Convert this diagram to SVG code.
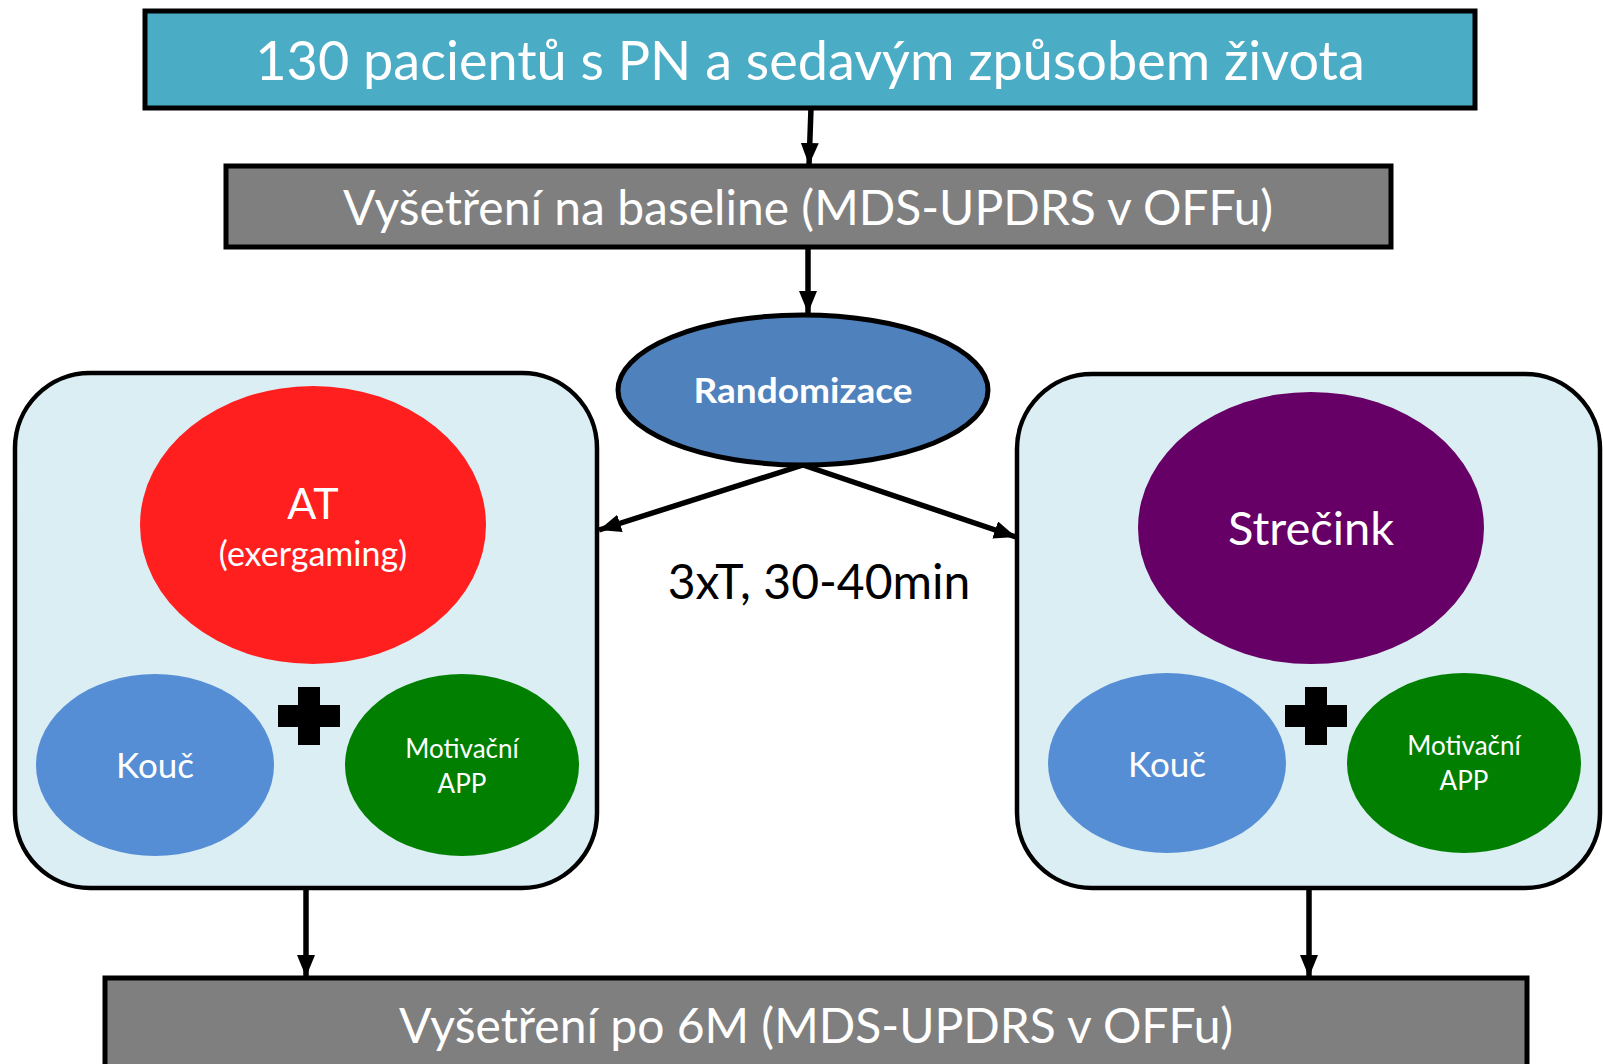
<svg xmlns="http://www.w3.org/2000/svg" width="1603" height="1064" viewBox="0 0 1603 1064">
<defs>
<marker id="ah" viewBox="0 0 22 18" refX="22" refY="9" markerWidth="22" markerHeight="18" markerUnits="userSpaceOnUse" orient="auto">
<path d="M0,0 L22,9 L0,18 Z" fill="#000"/>
</marker>
</defs>
<style>
text{font-family:Lato,"Open Sans","Liberation Sans",sans-serif;fill:#fff;text-anchor:middle}
.box{stroke:#000;stroke-width:5}
.cont{fill:#DBEEF3;stroke:#000;stroke-width:4.5}
.conn{stroke:#000;stroke-width:5.5;fill:none;marker-end:url(#ah)}
.plus{fill:#000}
</style>
<rect width="1603" height="1064" fill="#fff"/>
<g id="connectors">
<line class="conn" x1="811" y1="108" x2="809" y2="165"/>
<line class="conn" x1="808" y1="247" x2="808" y2="313"/>
<line class="conn" x1="803" y1="465" x2="599" y2="530"/>
<line class="conn" x1="803" y1="465" x2="1016" y2="537"/>
<line class="conn" x1="306" y1="888" x2="306" y2="977"/>
<line class="conn" x1="1309" y1="888" x2="1309" y2="977"/>
</g>
<g id="n-patients">
<rect class="box" x="145" y="11" width="1330" height="97" fill="#4BACC6"/>
<text x="810" y="80" font-size="54">130 pacientů s PN a sedavým způsobem života</text>
</g>
<g id="n-baseline">
<rect class="box" x="226" y="166" width="1165" height="81" fill="#7F7F7F"/>
<text x="808" y="225" font-size="48">Vyšetření na baseline (MDS-UPDRS v OFFu)</text>
</g>
<g id="n-random">
<ellipse cx="803" cy="390" rx="185" ry="75" fill="#4F81BD" stroke="#000" stroke-width="5"/>
<text x="803" y="403" font-size="34" font-weight="bold" textLength="219" lengthAdjust="spacingAndGlyphs">Randomizace</text>
</g>
<g id="n-label">
<text x="819" y="599" font-size="48" style="fill:#000">3xT, 30-40min</text>
</g>
<g id="n-left">
<rect class="cont" x="15" y="373" width="582" height="515" rx="75" ry="75"/>
<ellipse cx="313" cy="525" rx="173" ry="139" fill="#FF1F1F"/>
<text x="313" y="519" font-size="43">AT</text>
<text x="313" y="566" font-size="34">(exergaming)</text>
<ellipse cx="155" cy="765" rx="119" ry="91" fill="#558ED5"/>
<text x="155" y="778" font-size="35">Kouč</text>
<path class="plus" d="M298,687 h22 v18 h20 v22 h-20 v18 h-22 v-18 h-20 v-22 h20 z"/>
<ellipse cx="462" cy="765" rx="117" ry="91" fill="#007F00"/>
<text x="462" y="758" font-size="26">Motivační</text>
<text x="462" y="793" font-size="26">APP</text>
</g>
<g id="n-right">
<rect class="cont" x="1017" y="374" width="583" height="514" rx="75" ry="75"/>
<ellipse cx="1311" cy="528" rx="173" ry="136" fill="#660066"/>
<text x="1311" y="545" font-size="47">Strečink</text>
<ellipse cx="1167" cy="763" rx="119" ry="90" fill="#558ED5"/>
<text x="1167" y="777" font-size="35">Kouč</text>
<path class="plus" d="M1305,687 h22 v18 h20 v22 h-20 v18 h-22 v-18 h-20 v-22 h20 z"/>
<ellipse cx="1464" cy="763" rx="117" ry="90" fill="#007F00"/>
<text x="1464" y="755" font-size="26">Motivační</text>
<text x="1464" y="790" font-size="26">APP</text>
</g>
<g id="n-followup">
<rect class="box" x="105" y="978" width="1422" height="100" fill="#7F7F7F"/>
<text x="816" y="1043" font-size="48">Vyšetření po 6M (MDS-UPDRS v OFFu)</text>
</g>
</svg>
